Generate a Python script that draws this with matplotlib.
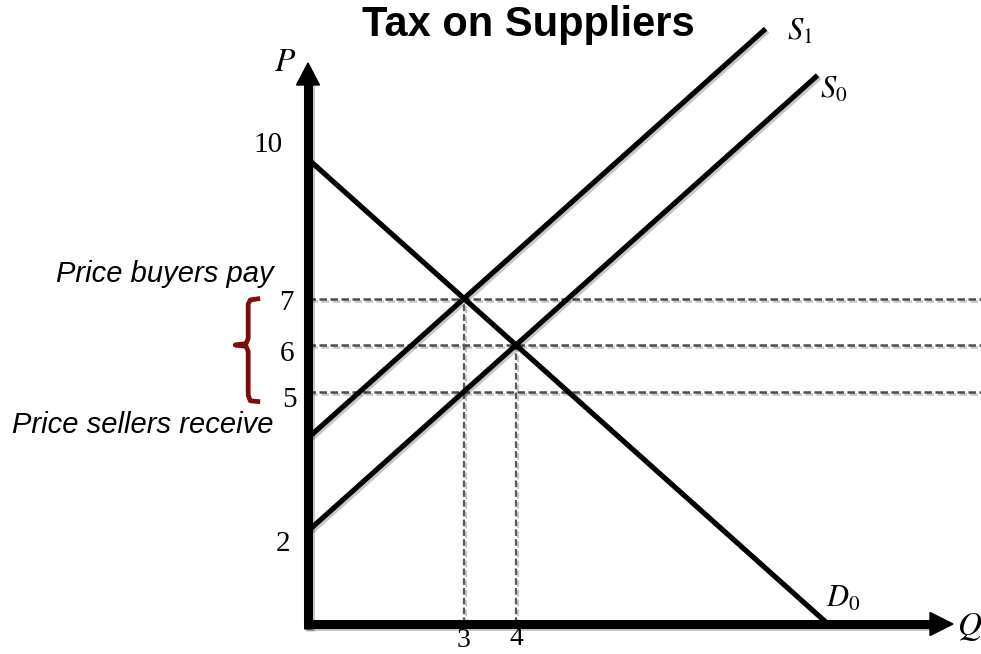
import matplotlib
matplotlib.use("Agg")
import matplotlib.pyplot as plt
import matplotlib.patheffects as pe
from matplotlib.patches import Polygon

plt.rcParams['mathtext.fontset'] = 'stix'

# ---------------- data ----------------
demand_q = [0, 10]
demand_p = [10, 0]
s0_q = [0, 9.8]
s0_p = [2, 11.8]
s1_q = [0, 8.8]
s1_p = [4, 12.8]

eq_q, eq_p = 4, 6            # original equilibrium
tax_q = 3                    # quantity after tax
p_buyers, p_sellers = 7, 5   # prices after tax

price_ticks = [10, 7, 6, 5, 2]
qty_ticks = [3, 4]

# ---------------- layout ----------------
W, H, DPI = 981, 654, 100
PX_Q, PX_P = 52.0, 46.5          # pixels per unit
X0, Y0 = 308, 624                # pixel position of origin (from top-left)

fig = plt.figure(figsize=(W / DPI, H / DPI), dpi=DPI)
ax = fig.add_axes([X0 / W, (H - Y0) / H, (W - X0) / W, Y0 / H])
ax.set_xlim(0, (W - X0) / PX_Q)
ax.set_ylim(0, Y0 / PX_P)
ax.axis('off')

shadow = [pe.SimpleLineShadow(offset=(1.5, -1.5), alpha=0.22, shadow_color='k'), pe.Normal()]

# dashed guide lines
xmax = ax.get_xlim()[1]
for p in [p_buyers, eq_p, p_sellers]:
    ax.plot([0, xmax], [p, p], color='#4d4d4d', lw=1.8, ls=(0, (3, 1.4)),
            clip_on=False, zorder=2, path_effects=shadow)
ax.plot([tax_q, tax_q], [0, p_buyers], color='#5a5a5a', lw=1.6, ls=(0, (3, 1.4)),
        zorder=2, path_effects=shadow)
ax.plot([eq_q, eq_q], [0, eq_p], color='#5a5a5a', lw=1.6, ls=(0, (3, 1.4)),
        zorder=2, path_effects=shadow)

# curves
for q, p in [(demand_q, demand_p), (s0_q, s0_p), (s1_q, s1_p)]:
    ax.plot(q, p, color='black', lw=3.7, solid_capstyle='butt', clip_on=False,
            zorder=3, path_effects=shadow)

# axes with arrows
axis_lw = 6.5
tip_p = (Y0 - 63) / PX_P
tip_q = (953 - X0) / PX_Q
head_len_p = 22 / PX_P
head_half_q = 11.5 / PX_Q
head_len_q = 23 / PX_Q
head_half_p = 11.5 / PX_P
ax.plot([0, 0], [-4.5 / PX_P, tip_p - head_len_p + 0.05], color='black', lw=axis_lw,
        solid_capstyle='butt', clip_on=False, zorder=4, path_effects=shadow)
ax.plot([-4.5 / PX_Q, tip_q - head_len_q + 0.05], [0, 0], color='black', lw=axis_lw,
        solid_capstyle='butt', clip_on=False, zorder=4, path_effects=shadow)
ax.add_patch(Polygon([[0, tip_p], [-head_half_q, tip_p - head_len_p], [head_half_q, tip_p - head_len_p]],
                     closed=True, color='black', clip_on=False, zorder=4))
ax.add_patch(Polygon([[tip_q, 0], [tip_q - head_len_q, head_half_p], [tip_q - head_len_q, -head_half_p]],
                     closed=True, color='black', clip_on=False, zorder=4))

# tick labels
serif = dict(family='Liberation Serif', fontsize=21, color='black')
tick_x = {10: -0.48, 7: -0.27, 6: -0.27, 5: -0.22, 2: -0.35}
tick_dy = {10: 0.31, 7: -0.09, 6: -0.19, 5: -0.18, 2: -0.28}
for p in price_ticks:
    ax.text(tick_x[p], p + tick_dy[p], str(p), ha='right', va='center', clip_on=False, **serif)
q_dy = {3: -0.49, 4: -0.45}
for q in qty_ticks:
    ax.text(q, q_dy[q], str(q), ha='center', va='baseline', clip_on=False,
            family='Liberation Serif', fontsize=20, color='black')

# curve & axis labels
ax.text(-0.44, 12.09, r'$P$', fontsize=24, ha='center', va='center', clip_on=False)
ax.text(12.73, -0.06, r'$Q$', fontsize=24, ha='center', va='center', clip_on=False)
ax.text(9.45, 12.75, r'$S_1$', fontsize=22, ha='center', va='center', clip_on=False)
ax.text(10.1, 11.5, r'$S_0$', fontsize=22, ha='center', va='center', clip_on=False)
ax.text(10.29, 0.56, r'$D_0$', fontsize=22, ha='center', va='center', clip_on=False)

# annotations
ital = dict(family='Liberation Sans', style='italic', fontsize=21, color='black')
ax.text(-0.67, 7.35, 'Price buyers pay', ha='right', va='baseline', clip_on=False, **ital)
ax.text(-0.67, 4.11, 'Price sellers receive', ha='right', va='baseline', clip_on=False, **ital)

# brace spanning the tax wedge
bx, bt, bh = -1.15, 0.23, 0.25
brace_q = [bx + bt, bx + 0.04, bx, bx, bx - 0.04, bx - bh, bx - 0.04, bx, bx, bx + 0.04, bx + bt]
brace_p = [p_buyers, p_buyers - 0.03, p_buyers - 0.12, eq_p + 0.14, eq_p + 0.03, eq_p,
           eq_p - 0.03, eq_p - 0.14, p_sellers - 0.08, p_sellers - 0.2, p_sellers - 0.22]
ax.plot(brace_q, brace_p, color='#7a0c0c', lw=3.4, solid_joinstyle='round',
        solid_capstyle='butt', clip_on=False, zorder=3)

# title
fig.text(528 / W, 1 - 25 / H, 'Tax on Suppliers', ha='center', va='center',
         family='Liberation Sans', weight='bold', fontsize=30)

fig.savefig('out.png', dpi=DPI)
